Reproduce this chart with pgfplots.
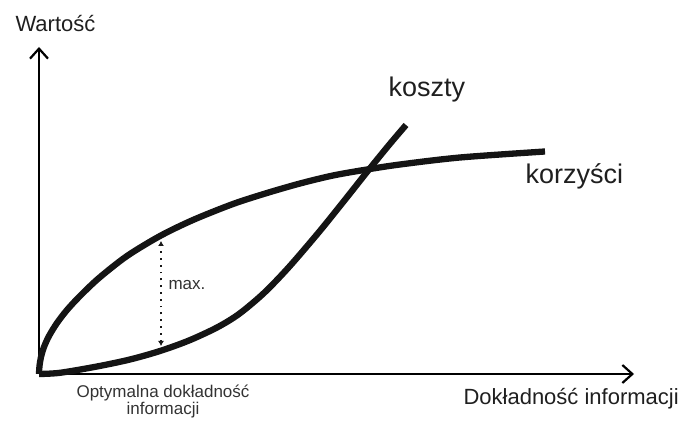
\documentclass[border=0pt]{standalone}
\usepackage{pgfplots}
\pgfplotsset{compat=1.18}
\usetikzlibrary{arrows.meta}
\usepackage{fontspec}
\setmainfont{Liberation Sans}
\begin{document}
\begin{tikzpicture}
\begin{axis}[
  at={(0,0)}, anchor=south west,
  scale only axis, width=595pt, height=327pt,
  xmin=0, xmax=595, ymin=0, ymax=327,
  axis lines=left,
  xtick=\empty, ytick=\empty,
  axis line style={line width=2.2pt},
  x axis line style={-{Straight Barb[length=10pt,width=18pt,line width=2.2pt]}},
  y axis line style={-{Straight Barb[length=10pt,width=18pt,line width=2.2pt]}},
  clip=false,
]
% korzysci
\addplot[smooth, line width=6.3pt, black!92] coordinates {
(0,0)(0.5,8)(2,17)(5,27)(10,38)(18,51)(28,64)(41,78)(60,96)(88,118)(121,138)(154,154)(194,170)(228,181)(261,190.5)(294,198.5)(328,204.5)(361,209.5)(421,216.5)(506,222.5)};
% koszty
\addplot[smooth, line width=6.3pt, black!92] coordinates {
(0,0)(21,1.2)(58,7.5)(91,14.5)(121,23)(150,33.5)(178,46.5)(200,60)(225,81)(250,107)(280,142)(305,173)(328,202)(350,229)(367,249)};
% max arrow
\addplot[line width=1.8pt, dash pattern=on 1.8pt off 5pt, black!90,
  {Latex[length=5pt,width=6pt]}-{Latex[length=5pt,width=6pt]}] coordinates {(122,28)(122,133)};
\node[anchor=base west, font=\fontsize{22}{26}\selectfont, text=black!88] at (axis cs:-27,342) {Wartość};
\node[anchor=base west, font=\fontsize{27}{32}\selectfont, text=black!88] at (axis cs:346,277) {koszty};
\node[anchor=base west, font=\fontsize{27}{32}\selectfont, text=black!88] at (axis cs:483,190) {korzyści};
\node[anchor=base west, font=\fontsize{22}{26}\selectfont, text=black!88] at (axis cs:421,-31) {Dokładność informacji};
\node[anchor=base, font=\fontsize{17}{20}\selectfont, text=black!80] at (axis cs:124,-24) {Optymalna dokładność};
\node[anchor=base, font=\fontsize{17}{20}\selectfont, text=black!80] at (axis cs:124,-41) {informacji};
\node[anchor=base west, font=\fontsize{17}{20}\selectfont, text=black!80] at (axis cs:126,84) {max.};
\end{axis}
\path[use as bounding box] (-39pt,-44pt) rectangle (644pt,374pt);
\end{tikzpicture}
\end{document}
